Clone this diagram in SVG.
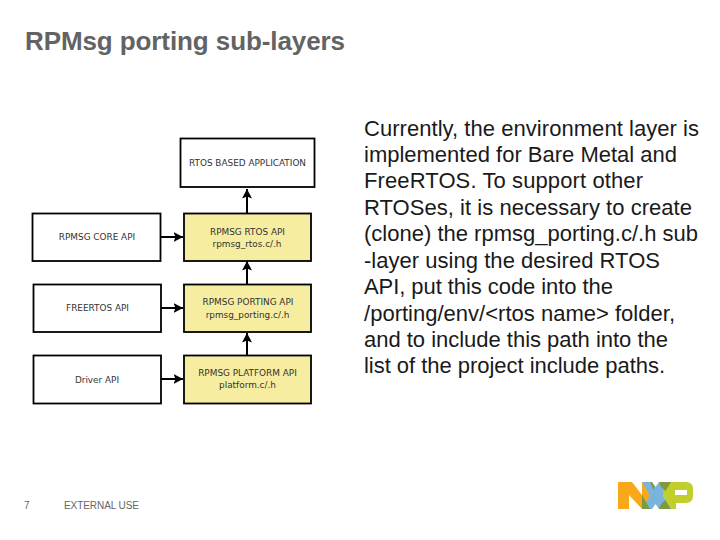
<svg xmlns="http://www.w3.org/2000/svg" width="720" height="540" viewBox="0 0 720 540">
<style>
.t{font-family:"Liberation Sans",Arial,sans-serif}
.box{fill:#fff;stroke:#000;stroke-width:1.8}
.y{fill:#f6eda0;stroke:#000;stroke-width:1.8}
.l{font-family:"DejaVu Sans",sans-serif;font-size:8.9px;fill:#333;text-anchor:middle}
.c{stroke:#000;stroke-width:2;fill:none;marker-end:url(#a)}
.b{font-family:"Liberation Sans",Arial,sans-serif;font-size:22px;fill:#1a1a1a}
</style>
<defs><marker id="a" markerUnits="userSpaceOnUse" markerWidth="11" markerHeight="11" refX="9.500" refY="5.500" orient="auto"><path d="M0 0.500L9.500 5.500L0 10.500L2 5.500Z" fill="#000"/></marker></defs>
<rect width="720" height="540" fill="#fff"/>
<text class="t" x="25" y="50" font-size="26" font-weight="bold" fill="#636363" textLength="320" lengthAdjust="spacing">RPMsg porting sub-layers</text>
<g id="connectors">
<path class="c" d="M247 213V189"/>
<path class="c" d="M160 237H183"/>
<path class="c" d="M247 284V261"/>
<path class="c" d="M161 308H183"/>
<path class="c" d="M247 355V333"/>
<path class="c" d="M161 379H183"/>
</g>
<g id="app"><rect class="box" x="180.500" y="138.500" width="134" height="48.500"/><text class="l" x="247.500" y="166">RTOS BASED APPLICATION</text></g>
<g id="core"><rect class="box" x="32.500" y="213.500" width="128" height="47.500"/><text class="l" x="97" y="240">RPMSG CORE API</text></g>
<g id="rtos"><rect class="y" x="184" y="213.500" width="127" height="47.500"/><text class="l" x="247.500" y="235">RPMSG RTOS API</text><text class="l" x="247" y="247">rpmsg_rtos.c/.h</text></g>
<g id="freertos"><rect class="box" x="33.500" y="284.500" width="127.500" height="47.500"/><text class="l" x="97.500" y="311">FREERTOS API</text></g>
<g id="porting"><rect class="y" x="184" y="284.500" width="127" height="47.500"/><text class="l" x="248" y="305">RPMSG PORTING API</text><text class="l" x="247.500" y="318">rpmsg_porting.c/.h</text></g>
<g id="driver"><rect class="box" x="33.500" y="355.500" width="127.500" height="48"/><text class="l" x="97" y="383">Driver API</text></g>
<g id="platform"><rect class="y" x="184" y="355.500" width="127" height="48"/><text class="l" x="247.500" y="376">RPMSG PLATFORM API</text><text class="l" x="247.500" y="388">platform.c/.h</text></g>
<g id="body">
<text class="b" x="364" y="136" textLength="335" lengthAdjust="spacing">Currently, the environment layer is</text>
<text class="b" x="364" y="162" textLength="313" lengthAdjust="spacing">implemented for Bare Metal and</text>
<text class="b" x="364" y="188" textLength="279" lengthAdjust="spacing">FreeRTOS. To support other</text>
<text class="b" x="364" y="215" textLength="328" lengthAdjust="spacing">RTOSes, it is necessary to create</text>
<text class="b" x="364" y="241" textLength="334" lengthAdjust="spacing">(clone) the rpmsg_porting.c/.h sub</text>
<text class="b" x="364" y="268" textLength="296" lengthAdjust="spacing">-layer using the desired RTOS</text>
<text class="b" x="364" y="294" textLength="249" lengthAdjust="spacing">API, put this code into the</text>
<text class="b" x="364" y="321" textLength="311" lengthAdjust="spacing">/porting/env/&lt;rtos name&gt; folder,</text>
<text class="b" x="364" y="347" textLength="304" lengthAdjust="spacing">and to include this path into the</text>
<text class="b" x="364" y="373" textLength="301" lengthAdjust="spacing">list of the project include paths.</text>
</g>
<text class="t" x="24" y="509" font-size="10" fill="#666">7</text>
<text class="t" x="64" y="509" font-size="10" fill="#666" textLength="75" lengthAdjust="spacing">EXTERNAL USE</text>
<g id="logo">
<path d="M618 482H632L642 495V482H650L658 495.500L650 509H642L629 495V509H618Z" fill="#f9a81a"/>
<path d="M642 482H652L655.500 487L659 482H671L663 495.500L671 509H659L655.500 504L652 509H642L650 495.500Z" fill="#7ab4dc"/>
<path d="M664 482H686Q693 482 693 489V496Q693 503 686 503H676V509H671L663 495.500Z M675 490V495H687V490Z" fill="#c0cf2c" fill-rule="evenodd"/>
<path d="M642 495L650 509H642Z M650 482L652 482L655 487L653.500 490Z" fill="#7e9a3e"/>
<path d="M659 482H671L665.500 491L661 487Z M665.500 500L671 509H659L661 504Z" fill="#7e9a3e"/>
</g>
</svg>
